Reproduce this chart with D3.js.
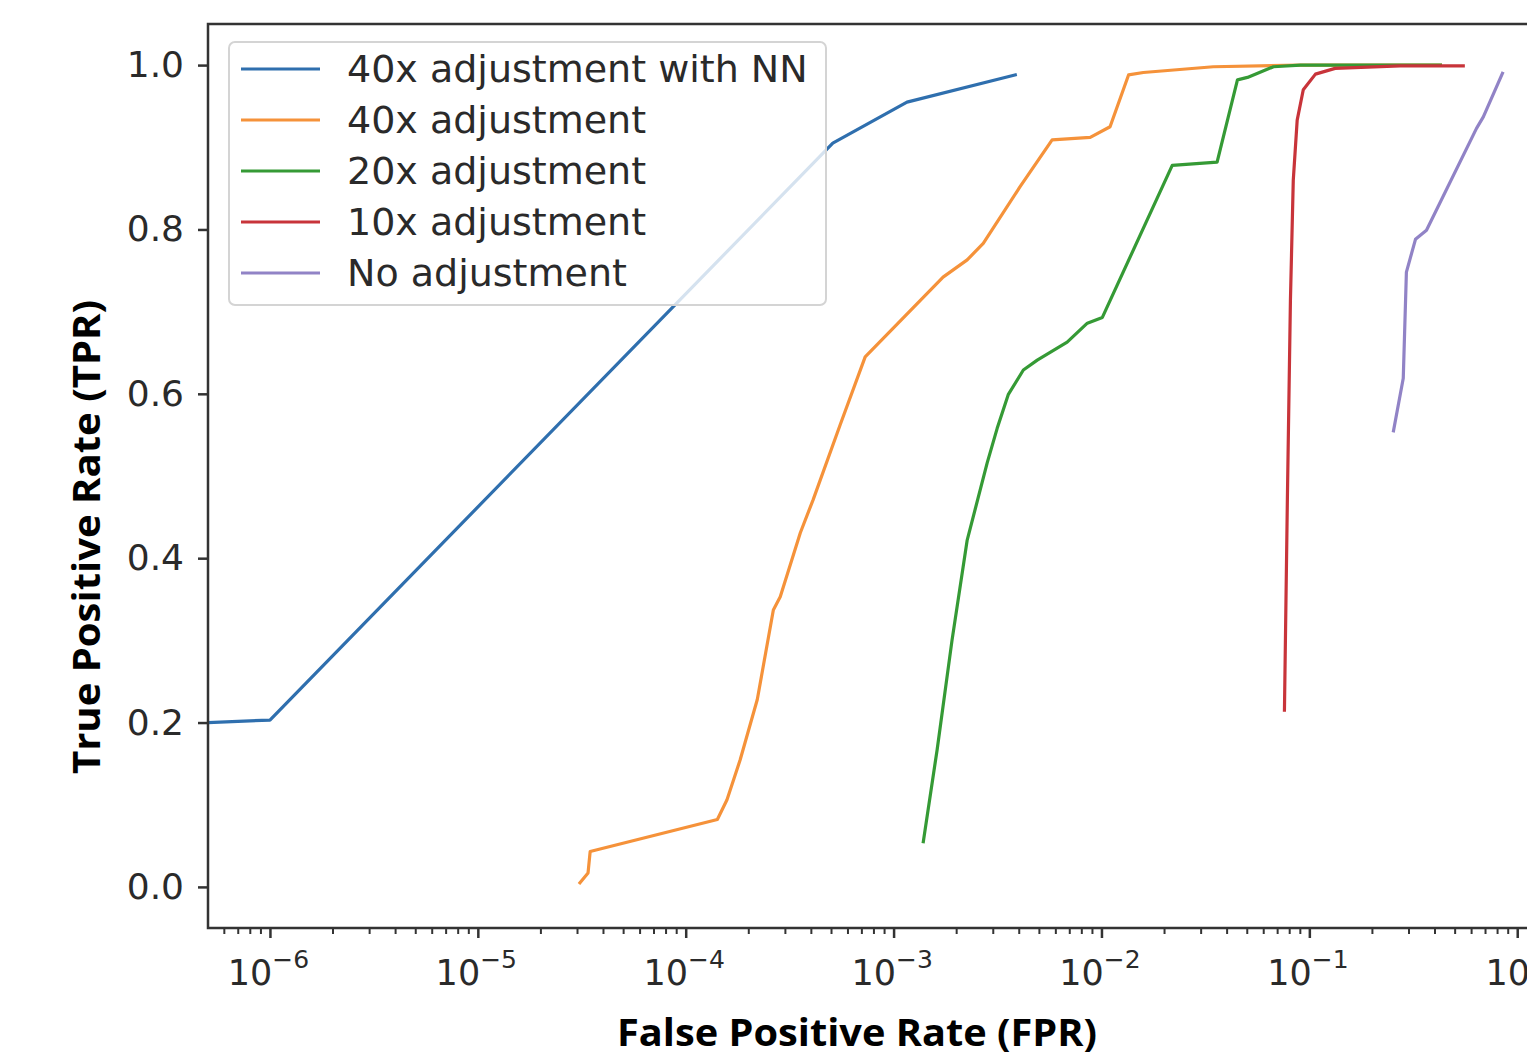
<!DOCTYPE html>
<html>
<head>
<meta charset="utf-8">
<script src="https://cdn.jsdelivr.net/npm/d3@7"></script>
<style>
  body { margin: 0; background: #fff; }
  svg { display: block; }
</style>
</head>
<body>
<svg width="1527" height="1056"></svg>
<script>
// datos (FPR en escala log, TPR lineal)
const seriesNames = ["40x adjustment with NN", "40x adjustment", "20x adjustment", "10x adjustment", "No adjustment"];
const seriesColors = ["#2f6fae", "#f5923a", "#359a35", "#c8343a", "#9183c6"];

const fprNN = [0, 1e-6, 5.1e-4, 1.16e-3, 3.85e-3];
const tprNN = [0.2, 0.203, 0.905, 0.955, 0.988];

const fpr40 = [3.10e-5, 3.39e-5, 3.47e-5, 1.42e-4, 1.58e-4, 1.83e-4, 2.21e-4, 2.64e-4, 2.85e-4, 3.56e-4, 4.10e-4, 5.53e-4, 7.3e-4, 1.73e-3, 2.26e-3, 2.70e-3, 4.06e-3, 5.79e-3, 8.83e-3, 1.10e-2, 1.35e-2, 1.59e-2, 3.45e-2, 9.06e-2, 0.427];
const tpr40 = [0.005, 0.017, 0.043, 0.082, 0.106, 0.155, 0.228, 0.337, 0.353, 0.431, 0.471, 0.562, 0.645, 0.742, 0.763, 0.783, 0.852, 0.909, 0.912, 0.925, 0.988, 0.991, 0.998, 1.0, 1.0];

const fpr20 = [1.39e-3, 1.62e-3, 1.91e-3, 2.26e-3, 2.82e-3, 3.15e-3, 3.56e-3, 4.21e-3, 4.91e-3, 6.84e-3, 8.55e-3, 1.01e-2, 2.19e-2, 3.60e-2, 4.51e-2, 5.04e-2, 6.72e-2, 9.06e-2, 0.427];
const tpr20 = [0.055, 0.167, 0.300, 0.422, 0.516, 0.558, 0.599, 0.629, 0.641, 0.663, 0.686, 0.693, 0.878, 0.882, 0.982, 0.985, 0.998, 1.0, 1.0];

const fpr10 = [7.59e-2, 7.84e-2, 8.11e-2, 8.37e-2, 8.74e-2, 9.35e-2, 0.107, 0.133, 0.273, 0.55];
const tpr10 = [0.215, 0.471, 0.714, 0.860, 0.933, 0.970, 0.989, 0.996, 0.999, 0.999];

const fprNo = [0.254, 0.283, 0.293, 0.324, 0.366, 0.637, 0.687, 0.849];
const tprNo = [0.555, 0.619, 0.748, 0.788, 0.799, 0.923, 0.937, 0.99];

const xMajor = [1e-6, 1e-5, 1e-4, 1e-3, 1e-2, 1e-1, 1];
const xExp = ["−6", "−5", "−4", "−3", "−2", "−1", "0"];
const yTicks = [0, 0.2, 0.4, 0.6, 0.8, 1.0];

const svg = d3.select("svg");
const plotLeft = 208, plotTop = 24, plotRight = 1580, plotBottom = 928;

// escalas
const x = d3.scaleLog()
  .domain([Math.pow(10, -6.298), Math.pow(10, 0.302)])
  .range([plotLeft, plotRight])
  .clamp(true);   // FPR = 0 queda en el borde izquierdo

const y = d3.scaleLinear()
  .domain([-0.05, 1.05])
  .range([plotBottom, plotTop]);

svg.append("defs").append("clipPath").attr("id", "plotclip")
  .append("rect")
  .attr("x", plotLeft).attr("y", plotTop)
  .attr("width", plotRight - plotLeft).attr("height", plotBottom - plotTop);

// curvas
const series = [
  [fprNN, tprNN], [fpr40, tpr40], [fpr20, tpr20], [fpr10, tpr10], [fprNo, tprNo]
];
const line = d3.line().x(d => x(d[0])).y(d => y(d[1]));

svg.append("g").attr("clip-path", "url(#plotclip)")
  .selectAll("path")
  .data(series)
  .enter().append("path")
  .attr("d", s => line(d3.zip(s[0], s[1])))
  .attr("fill", "none")
  .attr("stroke", (s, i) => seriesColors[i])
  .attr("stroke-width", 3.2)
  .attr("stroke-linejoin", "round")
  .attr("stroke-linecap", "square");

// ejes
const axisColor = "#333";

// ticks menores del eje log
const xMinor = [];
for (let k = -7; k <= 0; k++) {
  for (let m = 2; m <= 9; m++) {
    const v = m * Math.pow(10, k);
    if (v > x.domain()[0] && v < x.domain()[1]) xMinor.push(v);
  }
}

svg.append("g")
  .attr("transform", "translate(0," + plotBottom + ")")
  .call(d3.axisBottom(x).tickValues(xMinor).tickSize(6).tickFormat(""))
  .call(g => g.select(".domain").remove())
  .selectAll("line").attr("stroke", axisColor).attr("stroke-width", 2);

const xAxis = svg.append("g")
  .attr("transform", "translate(0," + plotBottom + ")")
  .call(d3.axisBottom(x).tickValues(xMajor).tickSize(10).tickFormat(""));
xAxis.select(".domain").remove();
xAxis.selectAll("line").attr("stroke", axisColor).attr("stroke-width", 2.5);

const xLab = xAxis.selectAll(".tick").append("text")
  .attr("fill", "#2a2a2a")
  .attr("y", 57)
  .attr("x", -2)
  .attr("text-anchor", "middle")
  .style("font-family", "'DejaVu Sans'")
  .style("font-size", "35px");
xLab.append("tspan").text("10");
xLab.append("tspan")
  .attr("dy", -17)
  .style("font-size", "25px")
  .text((d, i) => xExp[i]);

const yAxis = svg.append("g")
  .attr("transform", "translate(" + plotLeft + ",0)")
  .call(d3.axisLeft(y).tickValues(yTicks).tickSize(10).tickPadding(14).tickFormat(d3.format(".1f")));
yAxis.select(".domain").remove();
yAxis.selectAll("line").attr("stroke", axisColor).attr("stroke-width", 2.5);
yAxis.selectAll("text")
  .attr("fill", "#2a2a2a")
  .style("font-family", "'DejaVu Sans'")
  .style("font-size", "36px");

// marco
svg.append("rect")
  .attr("x", plotLeft).attr("y", plotTop)
  .attr("width", plotRight - plotLeft).attr("height", plotBottom - plotTop)
  .attr("fill", "none")
  .attr("stroke", axisColor)
  .attr("stroke-width", 2.5);

// leyenda
const legend = svg.append("g").attr("transform", "translate(229,42)");
legend.append("rect")
  .attr("width", 597).attr("height", 263)
  .attr("rx", 6)
  .attr("fill", "#fff").attr("fill-opacity", 0.8)
  .attr("stroke", "#d4d4d4").attr("stroke-width", 2);

const entry = legend.selectAll("g.legend_entry")
  .data(seriesNames)
  .enter().append("g")
  .attr("class", "legend_entry")
  .attr("transform", (d, i) => "translate(0," + (27 + i * 51) + ")");

entry.append("line")
  .attr("x1", 12).attr("x2", 91)
  .attr("stroke", (d, i) => seriesColors[i])
  .attr("stroke-width", 3.2);

entry.append("text")
  .attr("x", 118)
  .attr("dy", "0.35em")
  .attr("fill", "#2a2a2a")
  .style("font-family", "'DejaVu Sans'")
  .style("font-size", "38px")
  .text(d => d);

// titulos de los ejes
svg.append("text")
  .attr("x", 857).attr("y", 1046)
  .attr("text-anchor", "middle")
  .attr("textLength", 480).attr("lengthAdjust", "spacingAndGlyphs")
  .style("font-family", "'Open Sans'")
  .style("font-weight", "bold")
  .style("font-size", "38px")
  .text("False Positive Rate (FPR)");

svg.append("text")
  .attr("transform", "translate(100,537) rotate(-90)")
  .attr("text-anchor", "middle")
  .attr("textLength", 474).attr("lengthAdjust", "spacingAndGlyphs")
  .style("font-family", "'Open Sans'")
  .style("font-weight", "bold")
  .style("font-size", "38px")
  .text("True Positive Rate (TPR)");
</script>
</body>
</html>
